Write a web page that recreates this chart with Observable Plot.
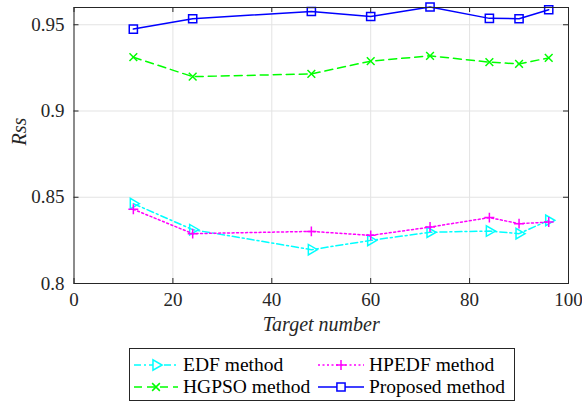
<!DOCTYPE html>
<html>
<head>
<meta charset="utf-8">
<script src="https://cdn.jsdelivr.net/npm/d3@7"></script>
<script src="https://cdn.jsdelivr.net/npm/@observablehq/plot@0.6"></script>
</head>
<body style="margin:0;padding:0;background:#fff">
<div id="wrap" style="position:relative;width:582px;height:403px;font-family:'Liberation Serif'">
  <div id="chart"></div>
  <div id="legend" style="position:absolute;left:129px;top:348px;width:386px;height:53px;border:1px solid #262626;background:#fff;box-sizing:border-box"></div>
</div>
<script>
const targetNumber = [12, 24, 48, 60, 72, 84, 90, 96];
const edfValues      = [0.8463, 0.8312, 0.8196, 0.8250, 0.8297, 0.8304, 0.8289, 0.8366];
const hgpsoValues    = [0.9312, 0.9199, 0.9215, 0.9289, 0.9320, 0.9283, 0.9273, 0.9308];
const hpedfValues    = [0.8430, 0.8289, 0.8302, 0.8279, 0.8327, 0.8382, 0.8347, 0.8356];
const proposedValues = [0.9475, 0.9535, 0.9577, 0.9548, 0.9603, 0.9537, 0.9535, 0.9587];
const xTicks = [0, 20, 40, 60, 80, 100];
const yTicks = [0.8, 0.85, 0.9, 0.95];
const seriesNames = ["EDF method", "HGPSO method", "HPEDF method", "Proposed method"];

const styles = {
  "EDF method":      {color: "#00ffff", dash: "7,3,2,3", symbol: "triangle2", rotate: 90, r: 5},
  "HGPSO method":    {color: "#00ff00", dash: "8,5",     symbol: "times",     rotate: 0,  r: 3.6},
  "HPEDF method":    {color: "#ff00ff", dash: "2,2.5",   symbol: "plus",      rotate: 0,  r: 3.3},
  "Proposed method": {color: "#0000ff", dash: null,      symbol: "square2",   rotate: 0,  r: 5.2}
};
const valuesByName = {
  "EDF method": edfValues, "HGPSO method": hgpsoValues,
  "HPEDF method": hpedfValues, "Proposed method": proposedValues
};

const W = 582, H = 345, mL = 73.5, mR = 14, mT = 7, mB = 62;
const fw = W - mL - mR, fh = H - mT - mB;
const axisColor = "#262626";
const FONT = "Liberation Serif";

const seriesMarks = seriesNames.flatMap(name => {
  const s = styles[name];
  const data = targetNumber.map((x, i) => ({x, y: valuesByName[name][i]}));
  return [
    Plot.line(data, {x: "x", y: "y", stroke: s.color, strokeWidth: 1.5, strokeDasharray: s.dash}),
    Plot.dot(data, {x: "x", y: "y", symbol: s.symbol, r: s.r, stroke: s.color, strokeWidth: 1.5, fill: "none", rotate: s.rotate})
  ];
});

const plot = Plot.plot({
  width: W, height: H,
  marginLeft: mL, marginRight: mR, marginTop: mT, marginBottom: mB,
  x: {domain: [0, 100]},
  y: {domain: [0.8, 0.96]},
  style: {fontFamily: FONT, fontSize: "19px", color: axisColor, background: "#fff"},
  marks: [
    Plot.gridX(xTicks, {stroke: "#e3e3e3", strokeOpacity: 1, strokeWidth: 1}),
    Plot.gridY(yTicks, {stroke: "#e3e3e3", strokeOpacity: 1, strokeWidth: 1}),
    ...seriesMarks,
    Plot.frame({stroke: axisColor, strokeWidth: 1}),
    Plot.ruleX(xTicks, {stroke: axisColor, insetTop: fh - 5}),
    Plot.ruleX(xTicks, {stroke: axisColor, insetBottom: fh - 5}),
    Plot.ruleY(yTicks, {stroke: axisColor, insetRight: fw - 5}),
    Plot.ruleY(yTicks, {stroke: axisColor, insetLeft: fw - 5}),
    Plot.axisX(xTicks, {tickSize: 0, tickPadding: 9, label: null, fill: axisColor, fontFamily: FONT, fontSize: 19}),
    Plot.axisY(yTicks, {tickSize: 0, tickPadding: 9.5, label: null, tickFormat: d => String(d), fill: axisColor, fontFamily: FONT, fontSize: 19}),
    Plot.text(["Target number"], {frameAnchor: "bottom", dy: 47, text: d => d, fontStyle: "italic", fontFamily: FONT, fontSize: 20, fill: axisColor}),
    Plot.text(["Rss"], {frameAnchor: "left", dx: -54, dy: 0, rotate: -90, text: d => d, fontStyle: "italic", fontFamily: FONT, fontSize: 20, fill: axisColor})
  ]
});
document.getElementById("chart").appendChild(plot);
d3.select(plot).selectAll("text").style("font-family", FONT);

// legend
const legend = d3.select("#legend");
const positions = {
  "EDF method":      {left: 3,   top: 5,  w: 46, gap: 4},
  "HPEDF method":    {left: 187, top: 5,  w: 48, gap: 4},
  "HGPSO method":    {left: 3,   top: 27, w: 46, gap: 4},
  "Proposed method": {left: 187, top: 27, w: 48, gap: 4}
};
const symbolMap = {triangle2: d3.symbolTriangle2, times: d3.symbolTimes, plus: d3.symbolPlus, square2: d3.symbolSquare2};
seriesNames.forEach(name => {
  const s = styles[name], p = positions[name];
  const e = legend.append("div")
    .style("position", "absolute").style("left", p.left + "px").style("top", p.top + "px")
    .style("display", "flex").style("align-items", "center")
    .style("font-family", FONT).style("font-size", "19.5px").style("line-height", "22px")
    .style("color", "#000").style("white-space", "nowrap");
  const svg = e.append("svg").attr("width", p.w).attr("height", 18).style("margin-right", p.gap + "px");
  svg.append("line").attr("x1", 1).attr("x2", p.w - 1).attr("y1", 9).attr("y2", 9)
    .attr("stroke", s.color).attr("stroke-width", 1.5).attr("stroke-dasharray", s.dash);
  svg.append("path").attr("d", d3.symbol(symbolMap[s.symbol], s.r * s.r * Math.PI)())
    .attr("transform", `translate(${p.w / 2},9) rotate(${s.rotate})`)
    .attr("fill", "#fff").attr("stroke", s.color).attr("stroke-width", 1.5);
  e.append("span").style("font-family", FONT).text(name);
});
</script>
</body>
</html>
